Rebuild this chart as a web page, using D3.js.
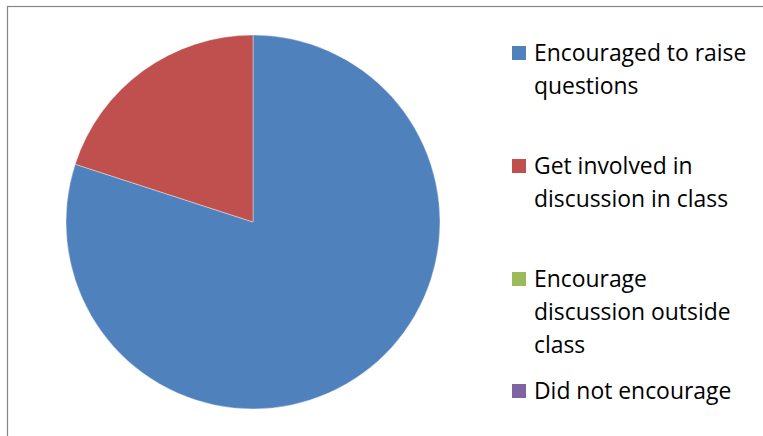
<!DOCTYPE html>
<html><head><meta charset="utf-8">
<script src="https://cdn.jsdelivr.net/npm/d3@7"></script>
<style>html,body{margin:0;padding:0;background:#fff;overflow:hidden}</style>
</head><body>
<svg id="chart" width="763" height="436"></svg>
<script>
const categories = ["Encouraged to raise questions", "Get involved in discussion in class", "Encourage discussion outside class", "Did not encourage"];
const values = [80, 20, 0, 0];
const legendLines = [["Encouraged to raise", "questions"], ["Get involved in", "discussion in class"], ["Encourage", "discussion outside", "class"], ["Did not encourage"]];
const colors = ["#4F81BD", "#C0504D", "#9BBB59", "#8064A2"];

const svg = d3.select("#chart");
// chart border (extends beyond the visible window)
svg.append("rect").attr("x", 7.5).attr("y", 6.5).attr("width", 800).attr("height", 500)
  .attr("fill", "none").attr("stroke", "#868686").attr("stroke-width", 1.2);

const cx = 253, cy = 222, R = 187;
const pie = d3.pie().sort(null).value(d => d)(values);
const arc = d3.arc().innerRadius(0).outerRadius(R);
const color = d3.scaleOrdinal().domain(categories).range(colors);

svg.append("g").attr("transform", `translate(${cx},${cy})`)
  .selectAll("path").data(pie).join("path")
  .attr("d", arc)
  .attr("fill", (d, i) => color(categories[i]))
  .attr("stroke", d => d.value > 0 ? "#ffffff" : "none")
  .attr("stroke-width", 0.4);

// legend
const legX = 512, sq = 14, lineH = 33;
const itemTops = [46, 159, 272, 384];
const leg = svg.append("g").selectAll("g").data(categories).join("g")
  .attr("transform", (d, i) => `translate(${legX},${itemTops[i]})`);
leg.append("rect").attr("width", sq).attr("height", sq).attr("fill", d => color(d));
leg.append("text")
  .attr("font-family", "'Open Sans', Lato, sans-serif")
  .attr("font-size", 22.9).attr("fill", "#000")
  .selectAll("tspan").data((d, i) => legendLines[i]).join("tspan")
  .attr("x", 22).attr("y", (d, j) => 14.5 + j * lineH).text(d => d);
</script>
</body></html>
